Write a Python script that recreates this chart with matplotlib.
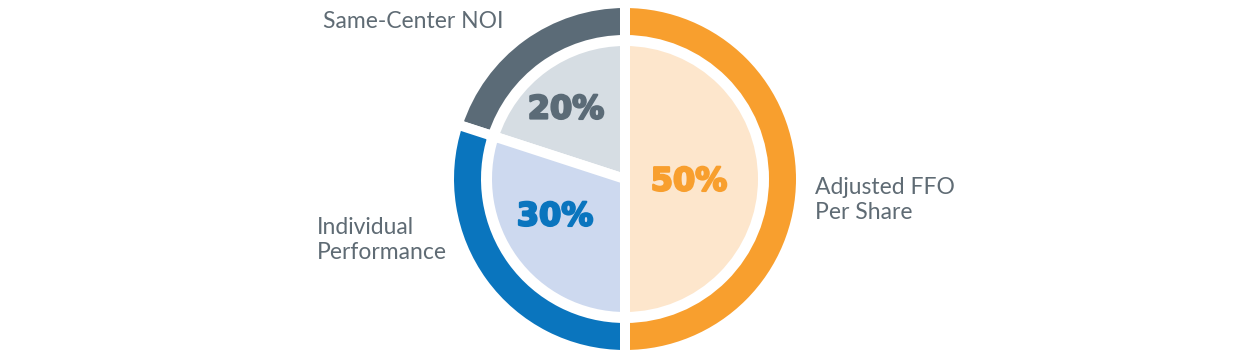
import matplotlib.pyplot as plt
import matplotlib.patheffects as pe

labels = ['Same-Center NOI', 'Individual\nPerformance', 'Adjusted FFO\nPer Share']
shares = [20, 30, 50]
ring_colors = ['#5b6b77', '#0a75be', '#f89f2e']
fill_colors = ['#d6dde3', '#cdd9ef', '#fde6cc']

plt.rcParams['font.family'] = ['Lato', 'DejaVu Sans']

fig = plt.figure(figsize=(12.39, 3.62), dpi=100)
ax = fig.add_axes([0, 0, 1, 1])

cx, cy = 625, 183
gap = 7.2  # white separator, in points

# outer ring
ax.pie(shares, colors=ring_colors, startangle=90, counterclock=True,
       center=(cx, cy), radius=176,
       wedgeprops=dict(width=37, edgecolor='white', linewidth=gap))
# inner filled pie
ax.pie(shares, colors=fill_colors, startangle=90, counterclock=True,
       center=(cx, cy), radius=138,
       wedgeprops=dict(edgecolor='white', linewidth=gap))

# percentages
pct_pos = [(566, 252), (555, 145), (689, 180)]
for s, (x, y), c in zip(shares, pct_pos, ring_colors):
    ax.text(x, y, f'{s}%', color=c, fontsize=23, fontweight='bold',
            family='DejaVu Sans', ha='center', va='center',
            path_effects=[pe.withStroke(linewidth=1.6, foreground=c)])

lab_color = '#5f6b74'
ax.text(413, 340, labels[0], color=lab_color, fontsize=16.5, ha='center', va='center')
ax.text(317, 122, labels[1], color=lab_color, fontsize=16.5, ha='left', va='center',
        linespacing=1.2)
ax.text(815, 162, labels[2], color=lab_color, fontsize=16.5, ha='left', va='center',
        linespacing=1.2)

ax.set_xlim(0, 1239)
ax.set_ylim(0, 362)
ax.set_aspect('equal')
ax.axis('off')

fig.savefig('out.png', dpi=100)
